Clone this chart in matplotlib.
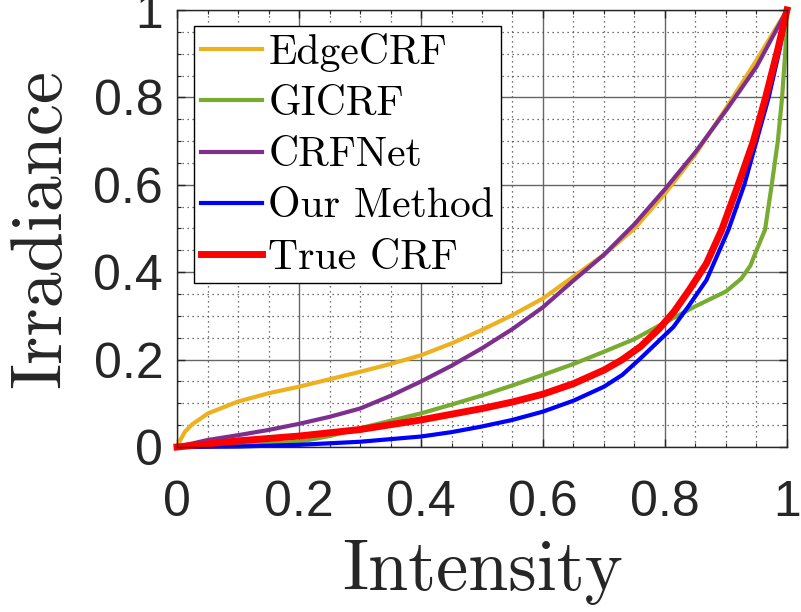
import matplotlib
matplotlib.use("Agg")
import matplotlib.pyplot as plt
from matplotlib.ticker import MultipleLocator

# curves (intensity -> irradiance)
edge_x = [0, 0.005, 0.013, 0.025, 0.051, 0.1, 0.15, 0.2, 0.25, 0.3, 0.35, 0.4, 0.45, 0.5,
          0.55, 0.6, 0.65, 0.7, 0.75, 0.8, 0.85, 0.9, 0.95, 1.0]
edge_y = [0, 0.015, 0.035, 0.052, 0.077, 0.104, 0.123, 0.138, 0.155, 0.172, 0.19, 0.21, 0.237, 0.268,
          0.302, 0.34, 0.39, 0.44, 0.5, 0.58, 0.67, 0.775, 0.885, 1.0]

gicrf_x = [0, 0.1, 0.2, 0.25, 0.3, 0.35, 0.4, 0.45, 0.5, 0.55, 0.6, 0.65, 0.7, 0.75, 0.8,
           0.85, 0.9, 0.925, 0.94, 0.95, 0.964, 0.975, 0.985, 0.992, 0.997, 1.0]
gicrf_y = [0, 0.004, 0.012, 0.025, 0.043, 0.06, 0.077, 0.097, 0.118, 0.141, 0.165, 0.19, 0.218, 0.247, 0.285,
           0.322, 0.356, 0.385, 0.415, 0.45, 0.497, 0.6, 0.7, 0.8, 0.9, 1.0]

crfnet_x = [0, 0.05, 0.1, 0.15, 0.2, 0.25, 0.3, 0.35, 0.4, 0.45, 0.5, 0.55, 0.6, 0.65, 0.7,
            0.75, 0.8, 0.85, 0.9, 0.95, 1.0]
crfnet_y = [0, 0.016, 0.027, 0.039, 0.053, 0.069, 0.088, 0.117, 0.15, 0.186, 0.226, 0.27, 0.32, 0.381, 0.44,
            0.51, 0.59, 0.675, 0.77, 0.87, 1.0]

ours_x = [0, 0.1, 0.2, 0.3, 0.4, 0.45, 0.5, 0.55, 0.6, 0.65, 0.7, 0.73, 0.76, 0.79, 0.814,
          0.84, 0.868, 0.904, 0.93, 0.95, 0.97, 0.988, 1.0]
ours_y = [0, 0.001, 0.005, 0.012, 0.024, 0.034, 0.047, 0.062, 0.081, 0.106, 0.138, 0.165, 0.203, 0.243, 0.275,
          0.325, 0.382, 0.497, 0.6, 0.7, 0.8, 0.91, 1.0]

true_x = [0, 0.1, 0.2, 0.3, 0.4, 0.5, 0.55, 0.6, 0.65, 0.7, 0.73, 0.76, 0.79, 0.815, 0.84,
          0.868, 0.893, 0.92, 0.945, 0.965, 0.985, 1.0]
true_y = [0, 0.014, 0.025, 0.04, 0.062, 0.088, 0.103, 0.121, 0.145, 0.176, 0.2, 0.23, 0.27, 0.31, 0.36,
          0.42, 0.497, 0.6, 0.7, 0.8, 0.91, 1.0]

ticks = [0, 0.2, 0.4, 0.6, 0.8, 1]
tick_labels = ['0', '0.2', '0.4', '0.6', '0.8', '1']

fig = plt.figure(figsize=(8.01, 6.12), dpi=100)
ax = fig.add_axes([0.221, 0.2696, 0.7615, 0.7141])

ax.plot(edge_x, edge_y, color='#EDB120', lw=3, label='EdgeCRF', clip_on=False)
ax.plot(gicrf_x, gicrf_y, color='#77AC30', lw=3, label='GICRF', clip_on=False)
ax.plot(crfnet_x, crfnet_y, color='#7E2F8E', lw=3, label='CRFNet', clip_on=False)
ax.plot(ours_x, ours_y, color='#0000FF', lw=3, label='Our Method', clip_on=False)
ax.plot(true_x, true_y, color='#FF0000', lw=5, label='True CRF', clip_on=False)

ax.set_xlim(0, 1)
ax.set_ylim(0, 1)
ax.set_xticks(ticks)
ax.set_xticklabels(tick_labels)
ax.set_yticks(ticks)
ax.set_yticklabels(tick_labels)
ax.xaxis.set_minor_locator(MultipleLocator(0.05))
ax.yaxis.set_minor_locator(MultipleLocator(0.05))

ax.tick_params(which='both', direction='in', top=True, right=True, colors='#262626')
ax.tick_params(which='major', length=6, width=1, labelsize=36)
ax.tick_params(axis='x', which='major', pad=24)
ax.tick_params(axis='y', which='major', pad=10)
ax.tick_params(which='minor', length=3, width=0.8)
for lab in ax.get_xticklabels() + ax.get_yticklabels():
    lab.set_family('Liberation Sans')

ax.grid(which='major', color='#666666', lw=1, ls='-')
ax.grid(which='minor', color='#444444', lw=0.9, ls=(0, (1, 3)))
ax.set_axisbelow(True)
for s in ax.spines.values():
    s.set_color('#262626')
    s.set_linewidth(1)

ax.set_xlabel('Intensity', family='cmr10', fontsize=52, color='#262626', labelpad=10)
ax.set_ylabel('Irradiance', family='cmr10', fontsize=52, color='#262626', labelpad=14)

leg = ax.legend(loc='upper left', bbox_to_anchor=(0.028, 0.963), borderaxespad=0,
                prop={'family': 'cmr10', 'size': 30}, frameon=True, fancybox=False,
                framealpha=1, edgecolor='black', handlelength=1.47, handletextpad=0.15,
                borderpad=0.16, labelspacing=0.33)
leg.get_frame().set_linewidth(1)

fig.savefig('out.png', dpi=100)
